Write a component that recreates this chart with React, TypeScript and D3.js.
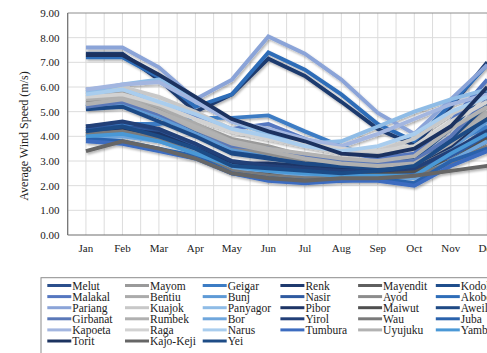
import React from "react";
import * as d3 from "d3";

const WIDTH = 487;
const HEIGHT = 353;

const months = ["Jan", "Feb", "Mar", "Apr", "May", "Jun", "Jul", "Aug", "Sep", "Oct", "Nov", "Dec"];
const yTicks = [0, 1, 2, 3, 4, 5, 6, 7, 8, 9];

// Station names in series order
const stations = [
  "Melut", "Mayom", "Geigar", "Renk", "Mayendit", "Kodok",
  "Malakal", "Bentiu", "Bunj", "Nasir", "Ayod", "Akobo",
  "Pariang", "Kuajok", "Panyagor", "Pibor", "Maiwut", "Aweil",
  "Girbanat", "Rumbek", "Bor", "Yirol", "Wau", "Juba",
  "Kapoeta", "Raga", "Narus", "Tumbura", "Uyujuku", "Yambio",
  "Torit", "Kajo-Keji", "Yei",
];

const stationColors = [
  "#2B4F8C", "#9A9A9A", "#3C7CC4", "#1F3A6E", "#5F5F5F", "#1F4E8C",
  "#5577C0", "#ABABAB", "#5E9AD6", "#2F5AA0", "#8C8C8C", "#2E6DB8",
  "#8BA4D8", "#C8C8C8", "#8FBCE6", "#1F3566", "#4F4F4F", "#1F4A85",
  "#5A78B8", "#B0B0B0", "#6FA6DC", "#223F78", "#7A7A7A", "#2A62AC",
  "#A3B6E0", "#D2D2D2", "#A9CDEE", "#3C6CC0", "#B2B2B2", "#4A98D6",
  "#1C3360", "#666666", "#1E4C86",
];

// Monthly average wind speed (m/s), Jan..Dec, per station
const melut = [4.4, 4.5, 4.2, 3.7, 2.9, 2.7, 2.6, 2.6, 2.5, 2.6, 3.3, 4.3];
const mayom = [5.7, 5.8, 5.1, 4.5, 3.9, 3.6, 3.2, 3.0, 2.8, 2.9, 3.9, 5.2];
const geigar = [4.3, 4.5, 4.5, 4.75, 4.75, 4.85, 4.2, 3.6, 3.1, 3.2, 3.7, 4.4];
const renk = [7.35, 7.35, 6.3, 5.0, 5.7, 7.15, 6.45, 5.4, 4.3, 3.65, 5.2, 7.0];
const mayendit = [4.1, 4.3, 3.9, 3.4, 2.6, 2.5, 2.4, 2.4, 2.4, 2.5, 2.9, 3.8];
const kodok = [5.3, 5.3, 4.8, 4.2, 3.4, 3.2, 3.1, 3.0, 3.0, 3.1, 4.3, 5.9];
const malakal = [5.9, 6.0, 5.3, 4.8, 4.3, 4.5, 3.9, 3.4, 3.1, 3.3, 4.6, 6.3];
const bentiu = [5.6, 5.7, 5.2, 4.5, 3.8, 3.4, 3.1, 2.9, 2.8, 3.0, 3.8, 5.0];
const bunj = [5.2, 5.3, 4.8, 4.1, 3.5, 3.3, 3.0, 2.8, 2.6, 2.7, 3.5, 4.6];
const nasir = [4.3, 4.4, 4.1, 3.6, 2.8, 2.6, 2.5, 2.5, 2.4, 2.5, 3.2, 4.0];
const ayod = [5.4, 5.5, 5.0, 4.3, 3.6, 3.3, 3.0, 2.8, 2.7, 2.8, 3.6, 4.8];
const akobo = [7.2, 7.2, 6.4, 5.2, 5.7, 7.4, 6.7, 5.7, 4.5, 3.8, 5.3, 6.9];
const pariang = [7.6, 7.6, 6.8, 5.5, 6.3, 8.05, 7.35, 6.3, 4.95, 4.1, 5.5, 6.9];
const kuajok = [5.9, 6.0, 5.6, 5.0, 4.3, 3.9, 3.6, 3.3, 3.4, 3.9, 4.9, 5.6];
const panyagor = [5.8, 6.1, 6.3, 5.6, 4.6, 4.1, 3.7, 3.8, 4.4, 5.0, 5.5, 5.9];
const pibor = [4.2, 4.3, 4.1, 3.5, 2.9, 2.9, 2.8, 2.7, 2.8, 2.9, 3.6, 4.8];
const maiwut = [4.0, 4.2, 3.9, 3.4, 2.7, 2.6, 2.5, 2.5, 2.5, 2.6, 3.0, 3.9];
const aweil = [5.1, 5.2, 4.6, 4.0, 3.3, 3.1, 2.9, 2.8, 2.7, 2.8, 3.9, 5.3];
const girbanat = [5.2, 5.4, 4.9, 4.3, 3.6, 3.5, 3.2, 3.0, 2.9, 3.0, 4.0, 5.5];
const rumbek = [5.5, 5.6, 5.0, 4.3, 3.7, 3.4, 3.1, 2.9, 2.8, 2.9, 3.7, 4.9];
const bor = [3.9, 4.0, 3.8, 3.4, 2.7, 2.6, 2.4, 2.3, 2.3, 2.3, 3.0, 3.8];
const yirol = [4.4, 4.6, 4.3, 3.7, 3.0, 2.8, 2.7, 2.6, 2.6, 2.7, 3.4, 4.2];
const wau = [4.1, 4.2, 3.9, 3.3, 2.6, 2.4, 2.3, 2.3, 2.3, 2.4, 2.9, 3.6];
const juba = [3.9, 3.8, 3.5, 3.2, 2.5, 2.3, 2.2, 2.2, 2.3, 2.1, 3.0, 3.5];
const kapoeta = [5.9, 6.1, 6.2, 5.4, 4.6, 4.3, 3.9, 3.6, 4.1, 4.7, 5.3, 5.7];
const raga = [5.6, 5.7, 5.3, 4.7, 4.2, 3.9, 3.7, 3.5, 3.4, 3.6, 4.6, 5.4];
const narus = [5.7, 5.9, 5.4, 4.9, 4.3, 4.0, 3.6, 3.4, 3.6, 4.1, 5.0, 5.6];
const tumbura = [3.8, 3.7, 3.4, 3.1, 2.5, 2.2, 2.1, 2.2, 2.2, 2.0, 2.8, 3.4];
const uyujuku = [5.3, 5.5, 5.0, 4.4, 3.8, 3.5, 3.3, 3.1, 3.0, 3.2, 4.3, 5.2];
const yambio = [4.0, 4.1, 3.8, 3.3, 2.8, 2.6, 2.5, 2.4, 2.4, 2.4, 3.3, 4.1];
const torit = [7.3, 7.3, 6.5, 5.6, 4.7, 4.2, 3.8, 3.3, 3.2, 3.5, 4.4, 6.0];
const kajoKeji = [3.4, 3.8, 3.5, 3.1, 2.5, 2.3, 2.2, 2.3, 2.3, 2.4, 2.6, 2.8];
const yei = [4.2, 4.4, 4.0, 3.5, 2.8, 2.7, 2.6, 2.5, 2.6, 2.8, 3.8, 4.7];

const stationValues = [
  melut, mayom, geigar, renk, mayendit, kodok,
  malakal, bentiu, bunj, nasir, ayod, akobo,
  pariang, kuajok, panyagor, pibor, maiwut, aweil,
  girbanat, rumbek, bor, yirol, wau, juba,
  kapoeta, raga, narus, tumbura, uyujuku, yambio,
  torit, kajoKeji, yei,
];

const FONT = "Liberation Serif, DejaVu Serif, serif";

export default function App() {
  const plot = { left: 67.7, right: 505.5, top: 13, bottom: 235 };

  const x = d3
    .scalePoint<string>()
    .domain(months)
    .range([plot.left, plot.right])
    .padding(0.5);
  const step = x.step();
  const y = d3.scaleLinear().domain([0, 9]).range([plot.bottom, plot.top]);

  const line = d3
    .line<number>()
    .x((_, i) => x(months[i]) as number)
    .y((d) => y(d));

  // gridlines every half category
  const vGrid = d3.range(0, 25).map((k) => plot.left + (k * step) / 2);

  const legendCols = 6;
  const legendLeft = 47.3;
  const legendColW = 77.7;
  const legendTop = 285.5;
  const legendRowH = 11.1;

  return (
    <svg
      width={WIDTH}
      height={HEIGHT}
      style={{ position: "absolute", left: 0, top: 0, background: "#fff", fontFamily: FONT }}
    >
      <defs>
        <filter id="lineShadow" x="-10%" y="-10%" width="120%" height="130%">
          <feDropShadow dx="1.2" dy="1.8" stdDeviation="1.1" floodColor="#000" floodOpacity="0.3" />
        </filter>
        <clipPath id="plotClip">
          <rect x={plot.left} y={plot.top - 4} width={plot.right - plot.left} height={plot.bottom - plot.top + 8} />
        </clipPath>
      </defs>

      {/* gridlines */}
      <g stroke="#DCDCDC" strokeWidth={1}>
        {yTicks.slice(1, -1).map((t) => (
          <line key={"h" + t} x1={plot.left} x2={plot.right} y1={y(t)} y2={y(t)} />
        ))}
        {vGrid.map((gx, i) => (
          <line key={"v" + i} x1={gx} x2={gx} y1={plot.top} y2={plot.bottom} />
        ))}
      </g>

      {/* plot frame */}
      <line x1={plot.left} x2={plot.right} y1={plot.top} y2={plot.top} stroke="#8C8C8C" strokeWidth={1} />
      <line x1={plot.left} x2={plot.left} y1={plot.top} y2={plot.bottom} stroke="#6E6E6E" strokeWidth={1.2} />
      <line x1={plot.left} x2={plot.right} y1={plot.bottom} y2={plot.bottom} stroke="#6E6E6E" strokeWidth={1.2} />

      {/* series */}
      <g clipPath="url(#plotClip)" filter="url(#lineShadow)">
        {stationValues.map((vals, i) => (
          <path
            key={stations[i]}
            d={line(vals) || ""}
            fill="none"
            stroke={stationColors[i]}
            strokeWidth={3.9}
            strokeLinejoin="miter"
          />
        ))}
      </g>

      {/* axis labels */}
      <g style={{ fontFamily: FONT }} fontSize={11} fill="#222">
        {yTicks.map((t) => (
          <text key={"yt" + t} x={59.5} y={y(t)} dy="0.35em" textAnchor="end">
            {t.toFixed(2)}
          </text>
        ))}
        {months.map((m) => (
          <text key={"xt" + m} x={x(m)} y={252} textAnchor="middle">
            {m}
          </text>
        ))}
      </g>
      <text
        transform={`translate(28,${(plot.top + plot.bottom) / 2 + 12}) rotate(-90)`}
        textAnchor="middle"
        style={{ fontFamily: FONT }}
        fontSize={12}
        fill="#222"
      >
        Average Wind Speed (m/s)
      </text>

      {/* legend */}
      <rect x={41} y={277.7} width={470} height={90} fill="#fff" stroke="#8C8C8C" strokeWidth={1} />
      <g style={{ fontFamily: FONT }} fontSize={11.5} fill="#222">
        {stations.map((name, i) => {
          const col = i % legendCols;
          const row = Math.floor(i / legendCols);
          const lx = legendLeft + col * legendColW;
          const ly = legendTop + row * legendRowH;
          return (
            <g key={"lg" + name}>
              <line x1={lx} x2={lx + 24} y1={ly} y2={ly} stroke={stationColors[i]} strokeWidth={3} />
              <text x={lx + 25} y={ly} dy="0.35em">
                {name}
              </text>
            </g>
          );
        })}
      </g>
    </svg>
  );
}
